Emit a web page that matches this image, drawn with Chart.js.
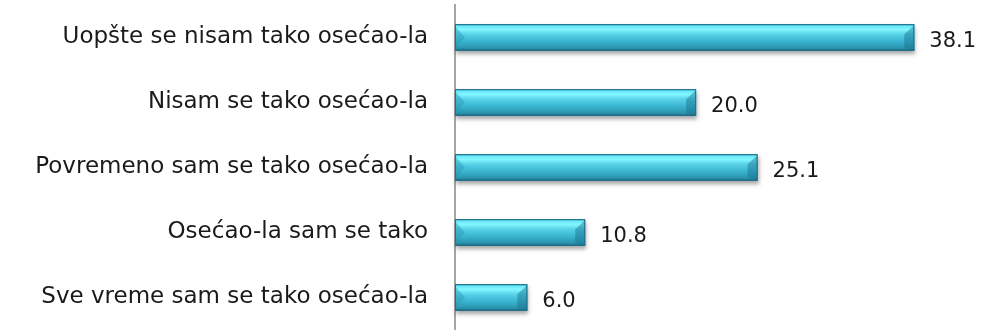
<!DOCTYPE html>
<html>
<head>
<meta charset="utf-8">
<script src="https://cdn.jsdelivr.net/npm/chart.js@4/dist/chart.umd.min.js"></script>
<style>
  html, body { margin: 0; padding: 0; background: #fff; overflow: hidden; }
  canvas { display: block; }
</style>
</head>
<body>
<canvas id="chart" width="983" height="330"></canvas>
<script>
const categories = [
  'Uopšte se nisam tako osećao-la',
  'Nisam se tako osećao-la',
  'Povremeno sam se tako osećao-la',
  'Osećao-la sam se tako',
  'Sve vreme sam se tako osećao-la'
];
const values = [38.1, 20.0, 25.1, 10.8, 6.0];

const FONT = '"DejaVu Sans", "Open Sans", sans-serif';

// cylinder-ish gradient for each bar, built from the bar's own geometry
function barGradient(ctx, top, bottom) {
  const g = ctx.createLinearGradient(0, top, 0, bottom);
  g.addColorStop(0, '#2a9ab4');
  g.addColorStop(0.06, '#66e6f6');
  g.addColorStop(0.2, '#82f6ff');
  g.addColorStop(0.38, '#58d2e8');
  g.addColorStop(0.65, '#39b4d0');
  g.addColorStop(0.9, '#2a93ad');
  g.addColorStop(1, '#1c6478');
  return g;
}

const bevelBars = {
  id: 'bevelBars',
  afterDatasetsDraw(chart) {
    const ctx = chart.ctx;
    const meta = chart.getDatasetMeta(0);
    ctx.save();
    meta.data.forEach((bar, i) => {
      const p = bar.getProps(['x', 'y', 'base', 'height'], true);
      const top = p.y - p.height / 2;
      const bottom = p.y + p.height / 2;
      const left = Math.min(p.base, p.x);
      const right = Math.max(p.base, p.x);
      const b = Math.min(10, (right - left) / 3);

      // shadow underneath
      ctx.save();
      ctx.shadowColor = 'rgba(0,0,0,0.35)';
      ctx.shadowBlur = 4;
      ctx.shadowOffsetY = 3;
      ctx.shadowOffsetX = 1;
      ctx.fillStyle = '#2b97b1';
      ctx.fillRect(left, top, right - left, bottom - top);
      ctx.restore();

      ctx.fillStyle = barGradient(ctx, top, bottom);
      ctx.fillRect(left, top, right - left, bottom - top);

      // left bevel
      ctx.fillStyle = 'rgba(40,150,180,0.45)';
      ctx.beginPath();
      ctx.moveTo(left, top + 2);
      ctx.lineTo(left + b, p.y);
      ctx.lineTo(left, bottom - 2);
      ctx.closePath();
      ctx.fill();

      // right bevel
      ctx.fillStyle = 'rgba(25,110,140,0.45)';
      ctx.beginPath();
      ctx.moveTo(right, top + 1);
      ctx.lineTo(right - b, top + b);
      ctx.lineTo(right - b, bottom - 3);
      ctx.lineTo(right, bottom);
      ctx.closePath();
      ctx.fill();

      // outline
      ctx.strokeStyle = '#1f7089';
      ctx.lineWidth = 1;
      ctx.strokeRect(left + 0.5, top + 0.5, right - left - 1, bottom - top - 1);

      // value label
      ctx.fillStyle = '#1a1a1a';
      ctx.font = '21px ' + FONT;
      ctx.textAlign = 'left';
      ctx.textBaseline = 'middle';
      ctx.fillText(values[i].toFixed(1), right + 15, p.y + 4);
    });
    ctx.restore();
  }
};

new Chart(document.getElementById('chart'), {
  type: 'bar',
  data: {
    labels: categories,
    datasets: [{
      data: values,
      backgroundColor: 'rgba(0,0,0,0)',
      borderWidth: 0,
      barPercentage: 0.41,
      categoryPercentage: 1.0
    }]
  },
  options: {
    indexAxis: 'y',
    responsive: false,
    animation: false,
    layout: { padding: { top: 5, bottom: 0, left: 0, right: 0 } },
    plugins: {
      legend: { display: false },
      tooltip: { enabled: false }
    },
    scales: {
      x: {
        display: false,
        min: 0,
        max: 43.8
      },
      y: {
        afterFit: s => {
          s.width = 455;
          s.paddingTop = 0;
          s.paddingBottom = 0;
        },
        grid: { display: false, drawTicks: false },
        border: { display: true, color: '#a6a6a6', width: 2 },
        ticks: {
          padding: 27,
          color: '#1a1a1a',
          font: { family: FONT, size: 23 }
        }
      }
    }
  },
  plugins: [bevelBars]
});
</script>
</body>
</html>
